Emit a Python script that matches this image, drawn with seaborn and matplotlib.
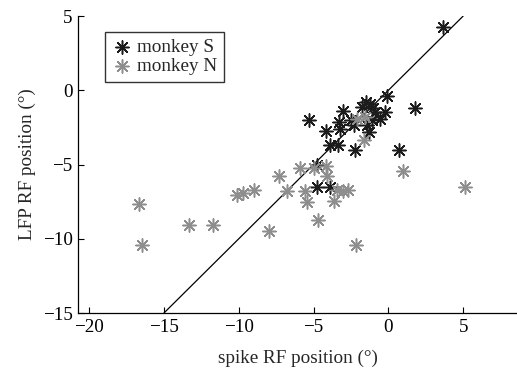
import numpy as np
import pandas as pd
import seaborn as sns
import matplotlib
matplotlib.use("Agg")
import matplotlib.pyplot as plt

# monkey S (black)
s_spike = [3.65, -0.1, 1.8, -5.3, -4.2, -3.0, -3.3, -3.2, -2.5, -2.3,
           -1.75, -1.5, -1.2, -1.0, -0.9, -0.55, -0.2, -1.4, -1.3, -1.1,
           -3.9, -3.35, -2.25, 0.7, -4.75, -4.75, -3.9]
s_lfp = [4.25, -0.35, -1.2, -2.0, -2.75, -1.4, -2.1, -2.6, -2.0, -2.35,
         -1.1, -0.8, -0.9, -1.2, -1.45, -1.9, -1.45, -2.35, -2.8, -2.0,
         -3.7, -3.7, -4.05, -4.05, -5.0, -6.5, -6.5]

# monkey N (gray)
n_spike = [-16.7, -16.45, -13.3, -11.7, -10.1, -9.7, -9.0, -7.95, -7.3, -6.8,
           -5.9, -5.0, -4.2, -4.1, -5.55, -5.45, -4.7, -3.65, -3.45, -3.0,
           -2.7, -2.15, -1.65, -2.1, -1.55, 1.0, 5.15]
n_lfp = [-7.65, -10.45, -9.1, -9.1, -7.05, -6.9, -6.7, -9.5, -5.8, -6.8,
         -5.25, -5.25, -5.1, -5.75, -6.8, -7.5, -8.75, -7.45, -6.7, -6.8,
         -6.7, -10.45, -3.35, -1.9, -1.8, -5.45, -6.5]

unity = [-15, 5]
xticks = [-20, -15, -10, -5, 0, 5]
yticks = [-15, -10, -5, 0, 5]

df = pd.DataFrame({
    "spike": s_spike + n_spike,
    "lfp": s_lfp + n_lfp,
    "monkey": ["monkey S"] * len(s_spike) + ["monkey N"] * len(n_spike),
})

sns.set_style("white")
plt.rcParams["font.family"] = ["Liberation Serif", "DejaVu Serif"]

fig = plt.figure(figsize=(5.17, 3.74), dpi=100)
ax = fig.add_axes([0.151, 0.163, 0.849, 0.794])

asterisk = (8, 2, 0)
pal = {"monkey S": "#1c1c1c", "monkey N": "#8e8e8e"}
for name in ["monkey S", "monkey N"]:
    sub = df[df["monkey"] == name]
    sns.scatterplot(data=sub, x="spike", y="lfp", ax=ax, marker=asterisk,
                    color=pal[name], edgecolor=pal[name], s=90,
                    linewidth=1.1, label=name, zorder=3)

sns.lineplot(x=unity, y=unity, ax=ax, color="black", linewidth=0.9,
             zorder=2, legend=False)

ax.set_xlim(-20.74, 8.6)
ax.set_ylim(-15, 5)
ax.set_xticks(xticks)
ax.set_yticks(yticks)
ax.set_xticklabels([str(t).replace("-", "\u2212") for t in xticks])
ax.set_yticklabels([str(t).replace("-", "\u2212") for t in yticks])
ax.tick_params(direction="in", length=4, width=0.8, labelsize=13.8,
               bottom=True, left=True, colors="black", pad=4)
sns.despine(ax=ax)
for sp in ["left", "bottom"]:
    ax.spines[sp].set_color("black")
    ax.spines[sp].set_linewidth(0.9)

ax.set_xlabel("spike RF position (\u00b0)", fontsize=13.8, labelpad=10)
ax.set_ylabel("LFP RF position (\u00b0)", fontsize=13.8, labelpad=5)

leg = ax.legend(loc="upper left", bbox_to_anchor=(0.0615, 0.947),
                borderaxespad=0, fontsize=13.8, frameon=True, fancybox=False,
                edgecolor="black", handletextpad=0.2, borderpad=0.35,
                labelspacing=0.1, handlelength=1.1)
leg.get_frame().set_linewidth(1.0)

fig.savefig("out.png", dpi=100)
